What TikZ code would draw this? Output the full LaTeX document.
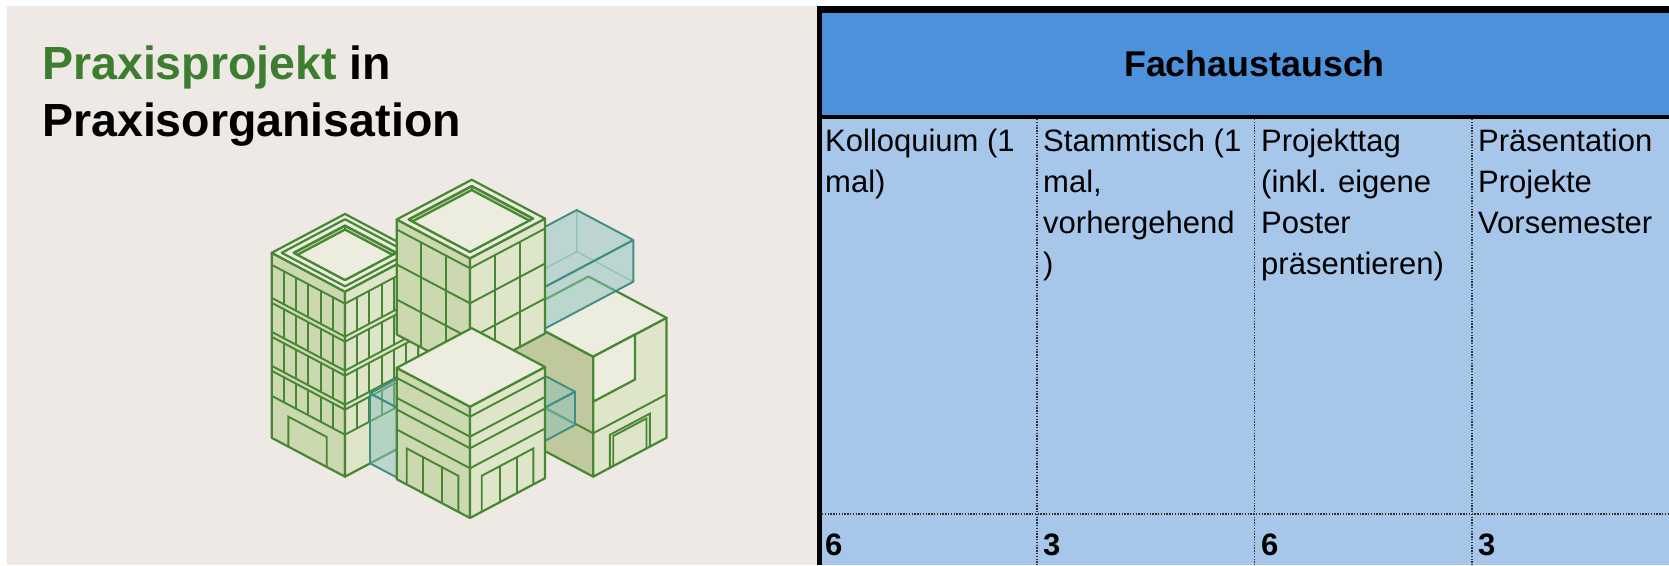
\documentclass[tikz,border=0pt]{standalone}
\usepackage{fontspec}
\setmainfont{Liberation Sans}
\usepackage{tikz}
\usetikzlibrary{calc, positioning}

\definecolor{bgbeige}{HTML}{EFE9E5}
\definecolor{titlegreen}{HTML}{3D7D2F}
\definecolor{headblue}{HTML}{4D91DA}
\definecolor{cellblue}{HTML}{A7C7EA}
\definecolor{bldgreen}{HTML}{478733}
\definecolor{bldleft}{HTML}{CCD8AF}
\definecolor{bldright}{HTML}{DEE5C9}
\definecolor{bldtop}{HTML}{ECEDDF}
\definecolor{bldwall}{HTML}{C4D1A8}
\definecolor{eolive}{HTML}{BFC99D}
\definecolor{glassteal}{HTML}{3E8E84}
\definecolor{glassfill}{HTML}{8CC3BC}

% box seen from the front corner: R along right face, L along left face, H up
\newcommand{\isoblock}[3]{%
  \filldraw[leftface] (0,0,0) -- (0,#2,0) -- (0,#2,#3) -- (0,0,#3) -- cycle;
  \filldraw[rightface] (0,0,0) -- (#1,0,0) -- (#1,0,#3) -- (0,0,#3) -- cycle;
  \filldraw[topface] (0,0,#3) -- (#1,0,#3) -- (#1,#2,#3) -- (0,#2,#3) -- cycle;
}
\newcommand{\glassblock}[3]{%
  \draw[glassback] (#1,#2,0) -- (#1,#2,#3) (0,#2,0) -- (#1,#2,0) -- (#1,0,0);
  \filldraw[glassface] (0,0,0) -- (0,#2,0) -- (0,#2,#3) -- (0,0,#3) -- cycle;
  \filldraw[glassface] (0,0,0) -- (#1,0,0) -- (#1,0,#3) -- (0,0,#3) -- cycle;
  \filldraw[glassface] (0,0,#3) -- (#1,0,#3) -- (#1,#2,#3) -- (0,#2,#3) -- cycle;
}
% sunken roof: R L H inset drop
\newcommand{\isoroof}[5]{%
  \filldraw[wallface] (#4,#4,#3) -- (#1-#4,#4,#3) -- (#1-#4,#2-#4,#3) -- (#4,#2-#4,#3) -- cycle;
  \begin{scope}
    \clip (#4,#4,#3) -- (#1-#4,#4,#3) -- (#1-#4,#2-#4,#3) -- (#4,#2-#4,#3) -- cycle;
    \filldraw[topface] (#4,#4,#3-#5) -- (#1-#4,#4,#3-#5) -- (#1-#4,#2-#4,#3-#5) -- (#4,#2-#4,#3-#5) -- cycle;
  \end{scope}
  \draw[bldline] (#1-#4,#2-#4,#3-#5) -- (#1-#4,#2-#4,#3);
  \draw[bldline] (#4,#4,#3) -- (#1-#4,#4,#3) -- (#1-#4,#2-#4,#3) -- (#4,#2-#4,#3) -- cycle;
}

\begin{document}
\begin{tikzpicture}[
      x=1pt, y=-1pt,
      every node/.style={inner sep=0pt},
      titletext/.style={anchor=base west, font=\fontsize{46.5}{57}\selectfont\bfseries},
      headtext/.style={anchor=base, font=\fontsize{35.8}{43}\selectfont\bfseries},
      celltext/.style={anchor=base west, align=left, font=\fontsize{31}{41}\selectfont},
      numtext/.style={anchor=base west, font=\fontsize{31}{41}\selectfont\bfseries},
      cellrule/.style={draw=black!80, line width=1.4pt, dash pattern=on 1.4pt off 1.4pt},
      bldline/.style={draw=bldgreen, line width=2.2pt, line join=round},
      floorline/.style={draw=bldgreen, line width=1.9pt, line cap=round},
      leftface/.style={bldline, fill=bldleft},
      rightface/.style={bldline, fill=bldright},
      topface/.style={bldline, fill=bldtop},
      wallface/.style={bldline, fill=bldwall},
      glassface/.style={draw=glassteal, line width=1.9pt, line join=round, fill=glassfill, fill opacity=.5},
      glassback/.style={draw=glassteal, line width=1.3pt, draw opacity=.5}
    ]
    \useasboundingbox (0,0) rectangle (1669,565);
    \fill[white] (0,0) rectangle (1669,565);
    \fill[bgbeige] (7,6) rectangle (817,565);

    % title
    \node[titletext] (titletop) at (42,79) {\textcolor{titlegreen}{Praxisprojekt} in};
    \node[titletext] (titlebottom) at (42,136) {Praxisorganisation};

    % buildings
    \begin{scope}[shift={(470,518)}, x={(1pt,0.53pt)}, y={(-1pt,0.53pt)}, z={(0pt,1pt)}]
      % right block, behind
      \begin{scope}[shift={(100.6,-22.6,0)}, leftface/.style={bldline, fill=eolive}]
        \isoblock{73.3}{78}{120}
        \filldraw[rightface, fill=bldtop] (0,0,75) -- (41.7,0,75) -- (41.7,0,120) -- (0,0,120) -- cycle;
        \draw[floorline] (0,78,43.4) -- (0,0,43.4) -- (73.3,0,43.4);
        \draw[floorline] (16.7,0,0) -- (16.7,0,33) -- (56.7,0,33) -- (56.7,0,0);
        \draw[floorline] (20,0,0) -- (20,0,30) -- (53.3,0,30) -- (53.3,0,0);
      \end{scope}
      % floating glass block
      \begin{scope}[shift={(43.05,-0.25,150)}]
        \glassblock{120}{56.6}{41.7}
      \end{scope}
      % left tower
      \begin{scope}[shift={(-23.5,101.5,0)}]
        \isoblock{73.3}{73.3}{185}
        \foreach \hh in {173,140,135,106,101,72,67,42}
          \draw[floorline] (0,73.3,\hh) -- (0,0,\hh) -- (73.3,0,\hh);
        \foreach \lo/\hi in {140/173,106/135,72/101,42/67}
          \foreach \w in {12.2,24.4,36.7,48.9,61.1}
            \draw[floorline] (0,\w,\lo) -- (0,\w,\hi) (\w,0,\lo) -- (\w,0,\hi);
        \draw[floorline] (0,18.3,0) -- (0,18.3,30) -- (0,56.7,30) -- (0,56.7,0);
        \draw[bldline] (5,5,185) -- (68.3,5,185) -- (68.3,68.3,185) -- (5,68.3,185) -- cycle;
        \isoroof{73.3}{73.3}{185}{11}{4}
      \end{scope}
      % middle tower
      \begin{scope}[shift={(136.5,136.5,0)}]
        \isoblock{75}{73.3}{115}
        \foreach \hh in {105,70,35}
          \draw[floorline] (0,73.3,\hh) -- (0,0,\hh) -- (75,0,\hh);
        \foreach \w in {24.4,48.9} \draw[floorline] (0,\w,0) -- (0,\w,105);
        \foreach \w in {25,50} \draw[floorline] (\w,0,0) -- (\w,0,105);
        \isoroof{75}{73.3}{115}{6}{4}
      \end{scope}
      % glass blocks behind the front building
      \begin{scope}[shift={(1.6,41.6,0)}]
        \glassblock{60}{60}{70}
      \end{scope}
      \begin{scope}[shift={(80.25,35.25,0)}]
        \glassblock{60}{60}{33.3}
      \end{scope}
      % front building
      \isoblock{75}{73.3}{111.3}
      \foreach \hh in {101.3,81.3,69.7,49.7}
        \draw[floorline] (0,73.3,\hh) -- (0,0,\hh) -- (75,0,\hh);
      \draw[floorline] (0,11.7,0) -- (0,11.7,36) -- (0,63.3,36) -- (0,63.3,0);
      \foreach \w in {28.3,46.7} \draw[floorline] (0,\w,0) -- (0,\w,36);
      \draw[floorline] (11.7,0,0) -- (11.7,0,36) -- (63.3,0,36) -- (63.3,0,0);
      \foreach \w in {30,46.7} \draw[floorline] (\w,0,0) -- (\w,0,36);
    \end{scope}

    % table
    \fill[black] (817,6) rectangle (1669,12.7);
    \fill[black] (817,6) rectangle (822,565);
    \fill[headblue] (822,12.7) rectangle (1669,115);
    \fill[black] (822,115) rectangle (1669,119);
    \fill[cellblue] (822,119) rectangle (1669,565);
    \foreach \cx in {1037,1254.5,1472}
      \draw[cellrule] (\cx,119) -- (\cx,565);
    \draw[cellrule] (822,514) -- (1669,514);

    \node[headtext] (fach) at (1254.5,76.7) {Fachaustausch};

    % base anchor sits on the last line
    \node[celltext] (kolloquium) at (825,192) {Kolloquium (1\\mal)};
    \node[celltext] (stammtisch) at (1043,274) {Stammtisch (1\\mal,\\vorhergehend\\)};
    \node[celltext] (projekttag) at (1261,274) {Projekttag\\(inkl. eigene\\Poster\\präsentieren)};
    \node[celltext] (praesentation) at (1478,233) {Präsentation\\Projekte\\Vorsemester};

    \node[numtext] (numkollo) at (825,555) {6};
    \node[numtext] (numstamm) at (1043,555) {3};
    \node[numtext] (numtag) at (1261,555) {6};
    \node[numtext] (numpraes) at (1478,555) {3};
\end{tikzpicture}
\end{document}
